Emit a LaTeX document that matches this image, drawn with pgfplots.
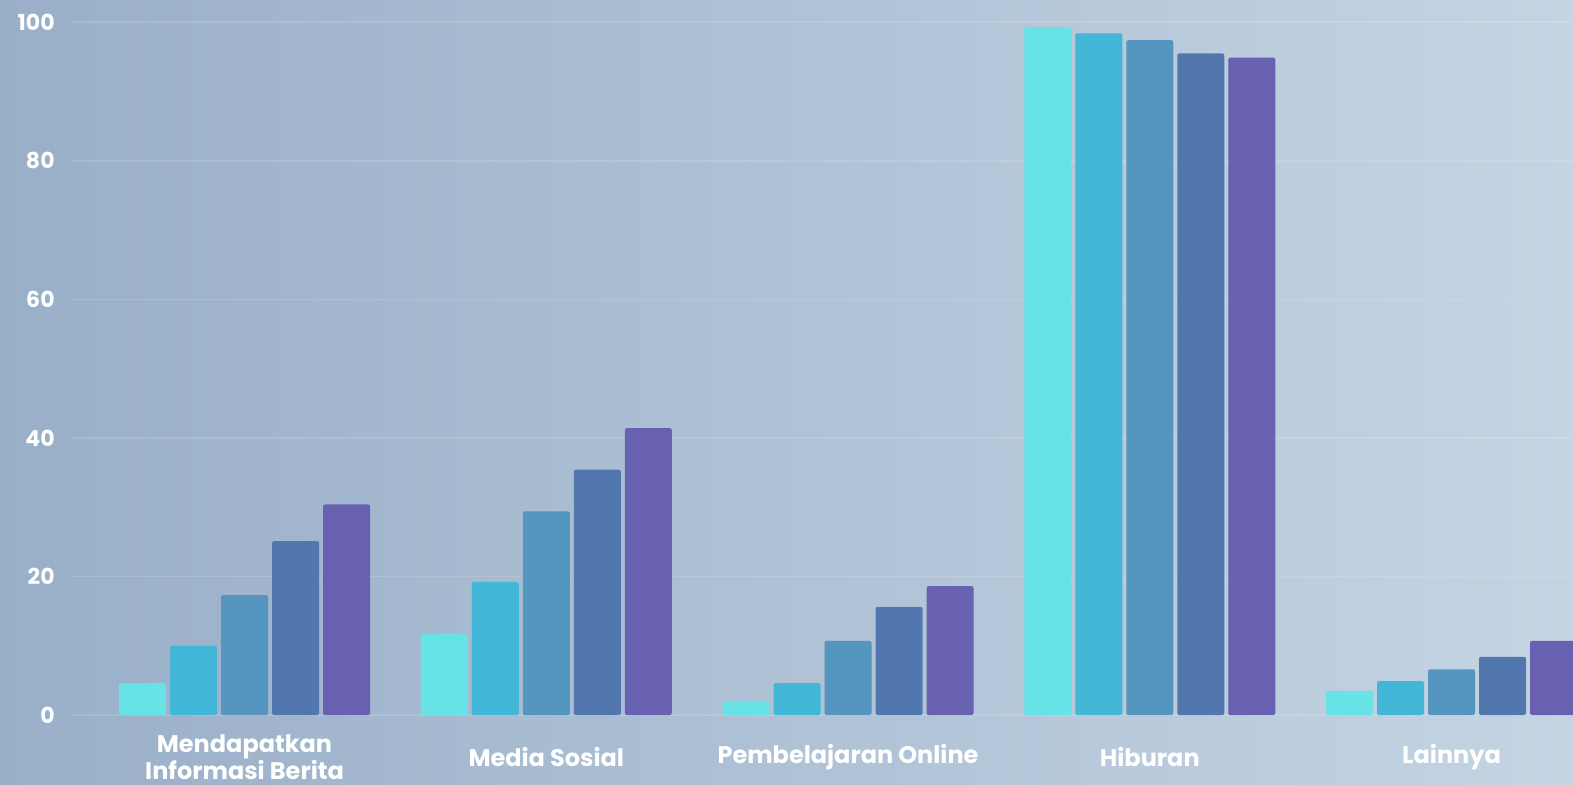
\documentclass[border=0pt]{standalone}
\usepackage{fontspec}
\setmainfont{Poppins}
\usepackage{pgfplots}
\pgfplotsset{compat=1.18}

\definecolor{barA}{HTML}{67E3E8}
\definecolor{barB}{HTML}{42B7D8}
\definecolor{barC}{HTML}{5496BF}
\definecolor{barD}{HTML}{5277AE}
\definecolor{barE}{HTML}{6860B0}
\definecolor{bgLeft}{HTML}{99AFC8}
\definecolor{bgRight}{HTML}{C4D4E3}

\begin{document}
\begin{tikzpicture}
\useasboundingbox (0,0) rectangle (786.5pt,392pt);
\clip (0,0) rectangle (786.5pt,392pt);
\shade[left color=bgLeft, right color=bgRight] (0,0) rectangle (786.5pt,392pt);
\begin{axis}[
    at={(36pt,34.5pt)}, anchor=south west,
    scale only axis,
    width=750.5pt, height=357.5pt,
    xmin=-0.5718, xmax=4.4027,
    ymin=0, ymax=103.2,
    ybar=2pt, bar width=23.5pt,
    axis line style={draw=none},
    tick style={draw=none},
    xtick={0,1,2,3,4},
    xticklabels={{Mendapatkan\\Informasi Berita},{Media Sosial},{Pembelajaran Online},{Hiburan},{Lainnya}},
    ytick={0,20,40,60,80,100},
    ymajorgrids,
    major grid style={white, opacity=0.13, line width=0.8pt},
    /pgf/number format/assume math mode=true,
    xticklabel style={font=\bfseries\fontsize{12}{11.3}\selectfont, text=white, align=center, anchor=center, inner sep=0pt, yshift=-16.8pt},
    yticklabel style={font=\bfseries\fontsize{11}{12}\selectfont, text=white, anchor=east, inner sep=0pt, xshift=-8.5pt},
]
\addplot[fill=barA, draw=none, rounded corners=1pt] coordinates {(0,4.6) (1,11.7) (2,1.9) (3,99.3) (4,3.5)};
\addplot[fill=barB, draw=none, rounded corners=1pt] coordinates {(0,10.0) (1,19.2) (2,4.6) (3,98.4) (4,4.9)};
\addplot[fill=barC, draw=none, rounded corners=1pt] coordinates {(0,17.3) (1,29.4) (2,10.7) (3,97.4) (4,6.6)};
\addplot[fill=barD, draw=none, rounded corners=1pt] coordinates {(0,25.1) (1,35.4) (2,15.6) (3,95.5) (4,8.4)};
\addplot[fill=barE, draw=none, rounded corners=1pt] coordinates {(0,30.4) (1,41.4) (2,18.6) (3,94.9) (4,10.7)};
\end{axis}
\end{tikzpicture}
\end{document}
